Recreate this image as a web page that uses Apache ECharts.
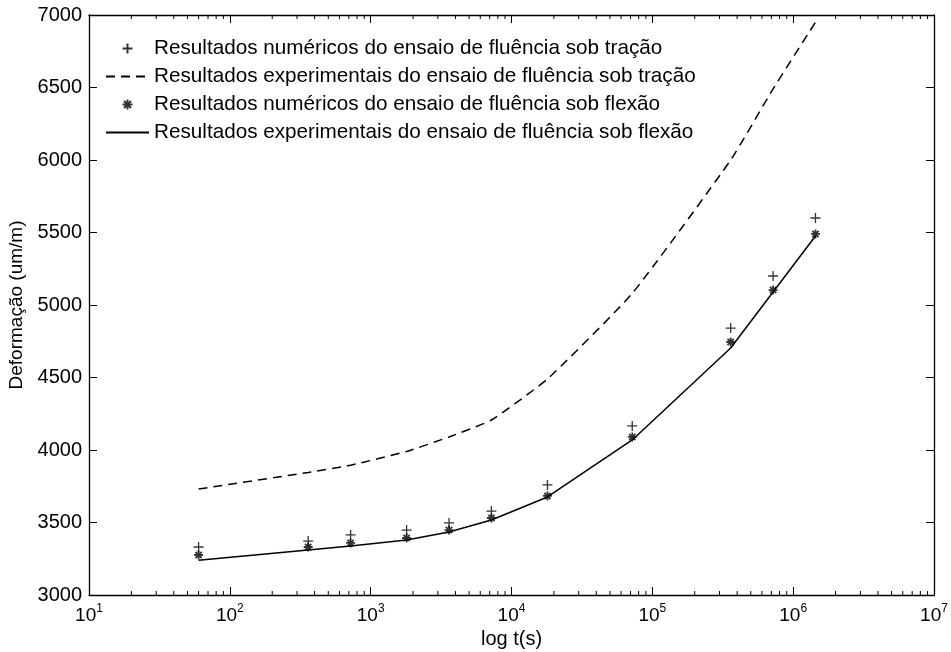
<!DOCTYPE html>
<html>

	<head>
		<meta charset="utf-8">
		<title>Fluência - tração e flexão</title>
		<script src="https://cdn.jsdelivr.net/npm/echarts@6/dist/echarts.min.js"></script>
		<style>
			html, body { margin: 0; padding: 0; background: #fff; }
			#chart { width: 951px; height: 652px; }
		</style>
	</head>

	<body>
		<div id="chart"></div>
		<script>
			// tempos de ensaio (s)
			var tempos = [60, 360, 720, 1800, 3600, 7200, 18000, 72000, 360000, 720000, 1440000];
			// deformações (um/m)
			var numTracao = [3331, 3372, 3414, 3448, 3497, 3579, 3759, 4166, 4841, 5200, 5600];
			var expTracao = [3731, 3845, 3895, 3990, 4090, 4207, 4490, 5080, 6000, 6490, 6950];
			var numFlexao = [3276, 3331, 3359, 3393, 3448, 3531, 3683, 4090, 4745, 5103, 5490];
			var expFlexao = [3240, 3310, 3338, 3379, 3434, 3517, 3676, 4069, 4703, 5090, 5476];

			var nomes = [
				'Resultados numéricos do ensaio de fluência sob tração',
				'Resultados experimentais do ensaio de fluência sob tração',
				'Resultados numéricos do ensaio de fluência sob flexão',
				'Resultados experimentais do ensaio de fluência sob flexão'
			];

			// marcas menores do eixo log: 2..9 em cada década
			var minorTicks = [];
			for (var d = 1; d < 7; d++) {
				for (var m = 2; m <= 9; m++) {
					minorTicks.push([m * Math.pow(10, d)]);
				}
			}

			var FONT = "'Liberation Sans', Arial, Helvetica, sans-serif";
			var plusPath = 'path://M5,0 L5,10 M0,5 L10,5';
			var starPath = 'path://M5,0 L5,10 M0,5 L10,5 M1.5,1.5 L8.5,8.5 M8.5,1.5 L1.5,8.5';
			var semSimbolo = { color: 'rgba(0,0,0,0)', borderColor: 'rgba(0,0,0,0)', borderWidth: 0 };

			function par(xs, ys) {
				return xs.map(function(x, i) {
					return [x, ys[i]];
				});
			}

			var Chart = echarts.init(document.getElementById('chart'));
			var option = {
				backgroundColor: '#fff',
				animation: false,
				textStyle: {
					fontFamily: FONT,
					color: '#000'
				},
				grid: {
					left: 89,
					right: 17,
					top: 15,
					bottom: 57,
					containLabel: false,
					outerBoundsMode: 'none'
				},
				legend: {
					orient: 'vertical',
					left: 100,
					top: 33,
					itemWidth: 43,
					itemHeight: 10,
					itemGap: 7,
					textStyle: {
						fontFamily: FONT,
						fontSize: 20.7,
						lineHeight: 20,
						color: '#000'
					},
					data: [
						{ name: nomes[0] },
						{ name: nomes[1], itemStyle: semSimbolo },
						{ name: nomes[2] },
						{ name: nomes[3], itemStyle: semSimbolo }
					]
				},
				xAxis: [{
					type: 'log',
					logBase: 10,
					min: 10,
					max: 10000000,
					splitNumber: 6,
					name: 'log t(s)',
					nameLocation: 'middle',
					nameGap: 18,
					nameTextStyle: {
						fontFamily: FONT,
						fontSize: 20,
						color: '#000'
					},
					axisLine: {
						lineStyle: { color: '#000', width: 1.3 }
					},
					axisTick: {
						inside: true,
						length: 8,
						lineStyle: { color: '#000', width: 1 }
					},
					splitLine: { show: false },
					axisLabel: {
						margin: 8,
						formatter: function(v) {
							var e = Math.round(Math.log(v) / Math.LN10);
							return '{b|10}{s|' + e + '}';
						},
						rich: {
							b: {
								fontFamily: FONT,
								fontSize: 19,
								lineHeight: 22,
								color: '#000',
								verticalAlign: 'bottom'
							},
							s: {
								fontFamily: FONT,
								fontSize: 12,
								lineHeight: 12,
								color: '#000',
								verticalAlign: 'top'
							}
						}
					}
				}, {
					type: 'log',
					logBase: 10,
					min: 10,
					max: 10000000,
					splitNumber: 6,
					position: 'top',
					axisLine: {
						lineStyle: { color: '#000', width: 1.3 }
					},
					axisTick: {
						inside: true,
						length: 8,
						lineStyle: { color: '#000', width: 1 }
					},
					axisLabel: { show: false },
					splitLine: { show: false }
				}],
				yAxis: [{
					type: 'value',
					min: 3000,
					max: 7000,
					interval: 500,
					name: 'Deformação (um/m)',
					nameLocation: 'middle',
					nameGap: 52,
					nameTextStyle: {
						fontFamily: FONT,
						fontSize: 19,
						color: '#000'
					},
					axisLine: {
						show: true,
						lineStyle: { color: '#000', width: 1.3 }
					},
					axisTick: {
						show: true,
						inside: true,
						length: 8,
						lineStyle: { color: '#000', width: 1 }
					},
					splitLine: { show: false },
					axisLabel: {
						margin: 7,
						fontFamily: FONT,
						fontSize: 20,
						color: '#000',
						formatter: function(v) {
							return String(v);
						}
					}
				}, {
					type: 'value',
					min: 3000,
					max: 7000,
					interval: 500,
					position: 'right',
					axisLine: {
						show: true,
						lineStyle: { color: '#000', width: 1.3 }
					},
					axisTick: {
						show: true,
						inside: true,
						length: 8,
						lineStyle: { color: '#000', width: 1 }
					},
					axisLabel: { show: false },
					splitLine: { show: false }
				}],
				series: [{
						name: nomes[0],
						type: 'scatter',
						symbol: plusPath,
						symbolSize: 10,
						itemStyle: {
							color: '#000',
							borderColor: '#000',
							borderWidth: 1.3
						},
						data: par(tempos, numTracao),
						z: 5
					},
					{
						name: nomes[1],
						type: 'line',
						symbol: 'none',
						smooth: 0.15,
						lineStyle: {
							color: '#000',
							width: 1.5,
							type: [9, 6]
						},
						itemStyle: { color: '#000' },
						data: par(tempos, expTracao)
					},
					{
						name: nomes[2],
						type: 'scatter',
						symbol: starPath,
						symbolSize: 9,
						itemStyle: {
							color: '#000',
							borderColor: '#000',
							borderWidth: 1.8
						},
						data: par(tempos, numFlexao),
						z: 5
					},
					{
						name: nomes[3],
						type: 'line',
						symbol: 'none',
						lineStyle: {
							color: '#000',
							width: 1.5,
							type: 'solid'
						},
						itemStyle: { color: '#000' },
						data: par(tempos, expFlexao)
					},
					{
						// marcas menores (baixo e topo)
						type: 'custom',
						silent: true,
						clip: false,
						renderItem: function(params, api) {
							var v = api.value(0);
							var b = api.coord([v, 3000]);
							var t = api.coord([v, 7000]);
							var st = { stroke: '#000', lineWidth: 1 };
							return {
								type: 'group',
								children: [{
									type: 'line',
									shape: { x1: b[0], y1: b[1], x2: b[0], y2: b[1] - 4 },
									style: st
								}, {
									type: 'line',
									shape: { x1: t[0], y1: t[1], x2: t[0], y2: t[1] + 4 },
									style: st
								}]
							};
						},
						data: minorTicks
					}
				]
			};
			Chart.setOption(option);
		</script>
	</body>

</html>
